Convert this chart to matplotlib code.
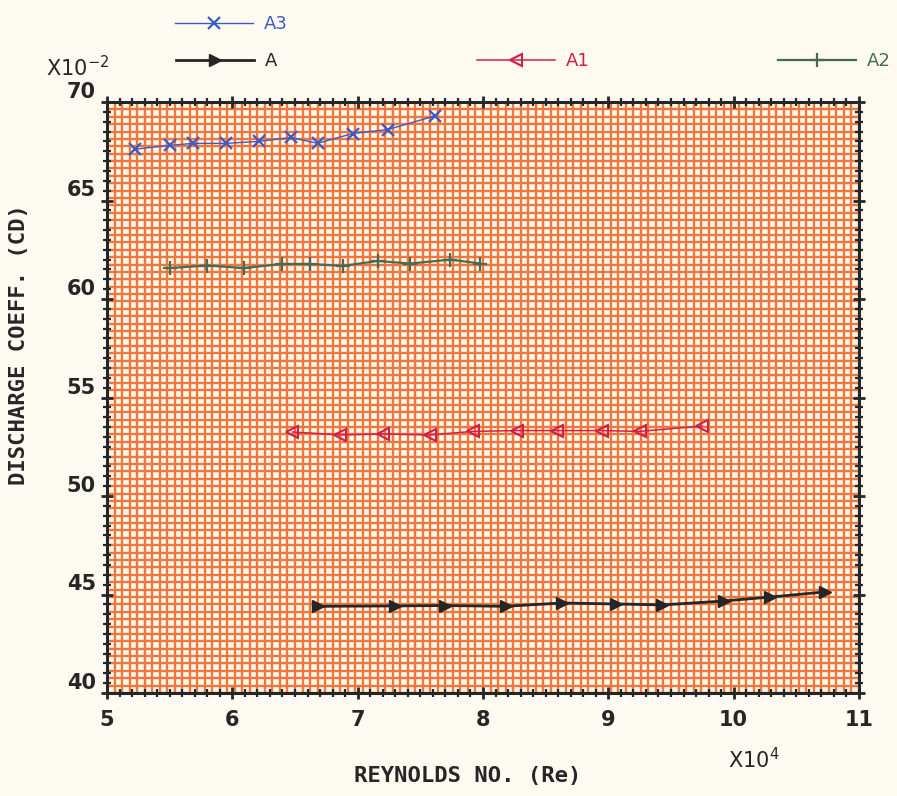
import numpy as np
import matplotlib
matplotlib.use("Agg")
import matplotlib.pyplot as plt
from matplotlib.lines import Line2D
from matplotlib.ticker import MultipleLocator

# Reynolds number (x10^4) and discharge coefficient (x10^-2) for each orifice
re_a3 = [5.22, 5.50, 5.69, 5.95, 6.21, 6.47, 6.68, 6.96, 7.24, 7.62]
cd_a3 = [67.6, 67.8, 67.9, 67.9, 68.0, 68.2, 67.9, 68.4, 68.6, 69.3]

re_a = [6.68, 7.30, 7.70, 8.18, 8.63, 9.06, 9.43, 9.92, 10.29, 10.73]
cd_a = [44.40, 44.42, 44.44, 44.40, 44.57, 44.52, 44.47, 44.67, 44.87, 45.13]

re_a1 = [6.48, 6.86, 7.20, 7.58, 7.92, 8.27, 8.59, 8.95, 9.25, 9.75]
cd_a1 = [53.25, 53.10, 53.15, 53.10, 53.28, 53.32, 53.32, 53.32, 53.28, 53.55]

re_a2 = [5.50, 5.80, 6.09, 6.40, 6.62, 6.88, 7.16, 7.42, 7.74, 7.98]
cd_a2 = [61.57, 61.70, 61.57, 61.78, 61.78, 61.68, 61.93, 61.80, 62.00, 61.80]

x_ticks = [5, 6, 7, 8, 9, 10, 11]
y_ticks = [40, 45, 50, 55, 60, 65, 70]

BG = "#FDFAF1"
PAPER = "#FFF8EF"
ORANGE = "#F0773A"
BLUE = "#3D5AC4"
BLACK = "#262626"
RED = "#D21E48"
GREEN = "#456B54"

fig = plt.figure(figsize=(8.97, 7.96), dpi=100, facecolor=BG)
ax = fig.add_axes([107 / 897, 1 - 693 / 796, 752 / 897, 591 / 796])
ax.set_facecolor(PAPER)
ax.set_xlim(5, 11)
ax.set_ylim(40, 70)

# graph-paper ruling
for gx in np.arange(5.0, 11.0001, 0.06):
    ax.axvline(gx, color=ORANGE, lw=1.7, zorder=0.5)
for gy in np.arange(40.0, 70.0001, 0.375):
    ax.axhline(gy, color=ORANGE, lw=1.7, zorder=0.5)

ax.plot(re_a3, cd_a3, color=BLUE, lw=1.0, marker="x", ms=9, mew=1.6, zorder=3)
ax.plot(re_a, cd_a, color=BLACK, lw=2.0, marker=">", ms=9, mfc=BLACK, mec=BLACK, zorder=3)
ax.plot(re_a1, cd_a1, color=RED, lw=1.1, marker="<", ms=8, mfc="none", mec=RED, mew=1.5, zorder=3)
ax.plot(re_a2, cd_a2, color=GREEN, lw=1.6, marker="+", ms=10, mew=1.6, zorder=3)

for s in ax.spines.values():
    s.set_linewidth(2.2)
    s.set_color(BLACK)
    s.set_zorder(4)

ax.set_xticks(x_ticks)
ax.set_yticks(y_ticks)
ax.xaxis.set_minor_locator(MultipleLocator(0.1))
ax.yaxis.set_minor_locator(MultipleLocator(0.5))
ax.tick_params(which="both", direction="inout", color=BLACK, top=True, right=True)
ax.tick_params(which="major", length=8, width=2.0)
ax.tick_params(which="minor", length=6, width=1.6)
ax.tick_params(axis="x", which="major", pad=8, labelcolor=BLACK)
ax.tick_params(axis="y", which="major", pad=4, labelcolor=BLACK)
ax.set_xticklabels([str(v) for v in x_ticks], fontsize=15, fontweight="bold")
ax.set_yticklabels([str(v) for v in y_ticks], fontsize=15, fontweight="bold")
for lbl in ax.get_yticklabels():
    lbl.set_verticalalignment("bottom")

ax.set_xlabel("REYNOLDS NO. (Re)", fontsize=16, fontweight="bold",
              family="DejaVu Sans Mono", color=BLACK)
ax.xaxis.set_label_coords((468 - 107) / 752, (693 - 776) / 591)
ax.xaxis.label.set_verticalalignment("center")
ax.set_ylabel("DISCHARGE COEFF. (CD)", fontsize=16, fontweight="bold",
              family="DejaVu Sans Mono", color=BLACK)
ax.yaxis.set_label_coords((19 - 107) / 752, (693 - 345) / 591)
ax.yaxis.label.set_verticalalignment("center")

fig.text(46 / 897, 1 - 76 / 796, r"X10$^{-2}$", fontsize=15, color=BLACK, va="baseline")
fig.text(728 / 897, 1 - 768 / 796, r"X10$^{4}$", fontsize=15, color=BLACK, va="baseline")

# series keys above the frame
keys = [
    ("A3", dict(color=BLUE, lw=1.0, marker="x", ms=9, mew=1.6), 175, 24),
    ("A", dict(color=BLACK, lw=2.0, marker=">", ms=9, mfc=BLACK), 176, 61),
    ("A1", dict(color=RED, lw=1.1, marker="<", ms=8, mfc="none", mew=1.5), 477, 61),
    ("A2", dict(color=GREEN, lw=1.6, marker="+", ms=10, mew=1.6), 778, 61),
]
for name, style, px, py in keys:
    h = Line2D([], [], **style)
    leg = fig.legend(handles=[h], labels=[name], loc="center left",
                     bbox_to_anchor=(px / 897, 1 - py / 796), frameon=False,
                     handlelength=4.3, handletextpad=0.6, numpoints=1,
                     borderpad=0, borderaxespad=0,
                     prop=dict(size=13, family="DejaVu Sans"))
    leg.get_texts()[0].set_color(style["color"])

fig.savefig("out.png", dpi=100, facecolor=BG)
